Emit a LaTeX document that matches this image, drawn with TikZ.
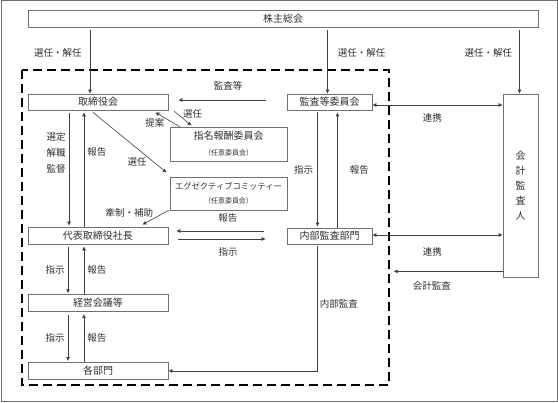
\documentclass[tikz,border=0pt]{standalone}
\usepackage{fontspec}
\setmainfont{Noto Sans CJK JP}
\usetikzlibrary{calc}
\usetikzlibrary{arrows.meta}
\usetikzlibrary{positioning}
\definecolor{boxgray}{HTML}{707070}
\definecolor{linegray}{HTML}{404040}
\definecolor{textgray}{HTML}{303030}
\tikzset{
  box/.style={rectangle, draw=boxgray, line width=0.7pt, text=textgray, inner sep=0pt, font=\fontsize{10}{12}\selectfont},
  note/.style={text=textgray, inner sep=2pt, font=\fontsize{9.5}{11}\selectfont},
  arrow/.style={draw=linegray, line width=0.6pt, -{Latex[length=4pt,width=4pt]}},
  darrow/.style={arrow, {Latex[length=4pt,width=4pt]}-{Latex[length=4pt,width=4pt]}}
  }

\begin{document}
\begin{tikzpicture}[x=1pt, y=-1pt]
	\useasboundingbox (0,0) rectangle (558,403);
	% Frame
	\draw[line width=1pt, draw=boxgray] (1,1) rectangle (557,402);
	\draw[line width=1.8pt, dash pattern=on 9pt off 5pt] (22,70) rectangle (389,385);

	% Nodes
	\node[box, minimum width=510pt, minimum height=17pt] (meeting) at (283,18.5) {株主総会};
	\node[box, minimum width=140pt, minimum height=16pt] (board) at (98,102) {取締役会};
	\node[box, minimum width=85pt, minimum height=16pt] (acom) at (329.5,102) {監査等委員会};
	\node[box, minimum width=35pt, minimum height=183pt, align=center, font=\fontsize{10}{15}\selectfont] (auditor) at (520.5,185.5) {会\\計\\監\\査\\人};
	\node[box, minimum width=117pt, minimum height=34pt, align=center] (nom) at (228.5,144) {指名報酬委員会\\[4pt]{\fontsize{7}{8}\selectfont （任意委員会）}};
	\node[box, minimum width=117pt, minimum height=33pt, align=center] (exec) at (228.5,193.5) {{\fontsize{8.3}{10}\selectfont エグゼクティブコミッティー}\\[2pt]{\fontsize{7}{8}\selectfont （任意委員会）}};
	\node[box, minimum width=140pt, minimum height=17pt] (ceo) at (98,235.5) {代表取締役社長};
	\node[box, minimum width=85pt, minimum height=16pt] (iad) at (329.5,236) {内部監査部門};
	\node[box, minimum width=140pt, minimum height=17pt, below=50pt of ceo] (mgmt) {経営会議等};
	\node[box, minimum width=140pt, minimum height=17pt, below=50pt of mgmt] (dept) {各部門};

	% Arrow
	\draw[arrow] ($(meeting.south -| board.north)+(-8,3)$) -- node[note, left=6pt, pos=0.35]{選任・解任} ($(board.north)+(-8,0)$);
	\draw[arrow] ($(meeting.south -| acom.north)+(-2,3)$) -- node[note, right=8pt, pos=0.35]{選任・解任} ($(acom.north)+(-2,0)$);
	\draw[arrow] ($(meeting.south -| auditor.north)+(-1,3)$) -- node[note, left=5pt, pos=0.35]{選任・解任} ($(auditor.north)+(-1,0)$);

	\draw[arrow] ($(acom.west)+(-21,-2)$) -- node[note, above=7pt, pos=0.43]{監査等} ($(board.east)+(10,-2)$);
	\draw[darrow] ($(acom.east)+(0,3)$) -- node[note, below=6pt, pos=0.46]{連携} ($(acom.east -| auditor.west)+(0,3)$);

	\draw[arrow] ($(board.south east)+(6,1)$) -- node[note, right=3pt, pos=0.2]{選任} ($(nom.north west)+(22,-1)$);
	\draw[arrow] ($(nom.north west)+(10,0)$) -- node[note, left=7pt, pos=0.25]{提案} ($(board.south east)+(-13,2)$);
	\draw[arrow] ($(board.south)+(-5,2)$) -- node[note, below=7pt, pos=0.6]{選任} ($(exec.north west)+(-3,-4)$);
	\draw[arrow] ($(exec.south west)+(-1,0)$) -- node[note, left=8pt, pos=0.2]{牽制・補助} ($(ceo.north east)+(-26,-2)$);

	\draw[arrow] ($(board.south)+(-29,3)$) -- node[note, left=1pt, pos=0.35, align=center]{選定\\[5pt]解職\\[5pt]監督} ($(ceo.north)+(-29,-1)$);
	\draw[arrow] ($(ceo.north)+(-14,0)$) -- node[note, right=1pt, pos=0.65]{報告} ($(board.south)+(-14,2)$);

	\draw[arrow] ($(iad.west)+(-23,-5)$) -- node[note, above=6pt, pos=0.41]{報告} ($(ceo.east)+(8,-4.5)$);
	\draw[arrow] ($(ceo.east)+(10,3.5)$) -- node[note, below=6pt, pos=0.57]{指示} ($(iad.west)+(-21,3)$);

	\draw[arrow] ($(acom.south)+(-12,2)$) -- node[note, left=2pt]{指示} ($(iad.north)+(-12,-1)$);
	\draw[arrow] ($(iad.north)+(8,0)$) -- node[note, right=10pt]{報告} ($(acom.south)+(8,2)$);

	\draw[darrow] ($(iad.east)+(0,-1)$) -- node[note, below=10pt, pos=0.46]{連携} ($(iad.east -| auditor.west)+(0,-1)$);
	\draw[arrow] ($(auditor.south west)+(0,-6)$) -- node[note, below=8pt, pos=0.65]{会計監査} ($(auditor.south west)+(-109,-6)$);

	\draw[arrow] ($(ceo.south)+(-30,3)$) -- node[note, left=1pt]{指示} ($(mgmt.north)+(-30,-1)$);
	\draw[arrow] ($(mgmt.north)+(-14,0)$) -- node[note, right=1pt]{報告} ($(ceo.south)+(-14,2)$);
	\draw[arrow] ($(mgmt.south)+(-30,3)$) -- node[note, left=1pt]{指示} ($(dept.north)+(-30,-1)$);
	\draw[arrow] ($(dept.north)+(-14,0)$) -- node[note, right=1pt]{報告} ($(mgmt.south)+(-14,2)$);

	\draw[arrow] ($(iad.south)+(-12,2)$) |- node[note, right=0pt, pos=0.23]{内部監査} (dept.east);
\end{tikzpicture}
\end{document}
